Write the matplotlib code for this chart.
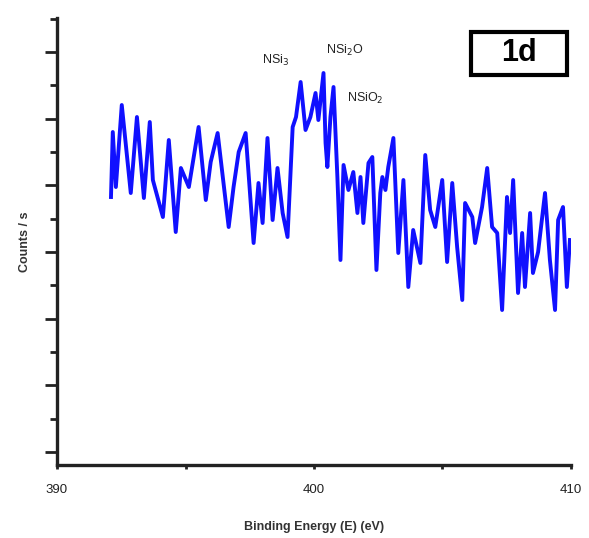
import matplotlib
matplotlib.use("Agg")
import matplotlib.pyplot as plt
from matplotlib.patches import Rectangle
from matplotlib.ticker import MultipleLocator, NullFormatter

plt.rcParams['font.family'] = ['Liberation Sans', 'DejaVu Sans']

# spectrum (binding energy in eV, counts / s)
energy = [392.10, 392.17, 392.29, 392.52, 392.87, 393.11, 393.38, 393.61, 393.73, 394.12,
          394.35, 394.62, 394.82, 395.13, 395.51, 395.79, 395.98, 396.25, 396.68, 396.87,
          397.07, 397.34, 397.65, 397.84, 398.00, 398.19, 398.39, 398.58, 398.78, 398.97,
          399.17, 399.30, 399.48, 399.67, 399.86, 400.06, 400.17, 400.37, 400.45, 400.52,
          400.64, 400.76, 400.91, 401.03, 401.15, 401.34, 401.53, 401.69, 401.81, 401.92,
          402.12, 402.27, 402.43, 402.58, 402.66, 402.78, 402.89, 403.09, 403.28, 403.48,
          403.67, 403.86, 404.14, 404.33, 404.52, 404.72, 404.99, 405.18, 405.38, 405.57,
          405.77, 405.88, 406.16, 406.27, 406.54, 406.74, 406.93, 407.13, 407.32, 407.51,
          407.63, 407.75, 407.94, 408.10, 408.21, 408.41, 408.52, 408.72, 408.99, 409.18,
          409.38, 409.50, 409.69, 409.84, 409.96]
counts = [965, 1160, 995, 1241, 977, 1205, 962, 1190, 1016, 905,
          1136, 860, 1052, 995, 1175, 956, 1070, 1157, 875, 995,
          1100, 1157, 827, 1007, 887, 1142, 896, 1052, 917, 845,
          1175, 1205, 1310, 1166, 1205, 1277, 1196, 1337, 1127, 1055,
          1205, 1295, 1025, 776, 1061, 986, 1040, 917, 1025, 887,
          1067, 1085, 746, 977, 1025, 986, 1055, 1142, 797, 1016,
          695, 866, 767, 1091, 926, 875, 1016, 770, 1007, 815,
          656, 947, 905, 827, 935, 1052, 875, 857, 626, 965,
          857, 1016, 677, 857, 695, 917, 737, 800, 977, 776,
          626, 896, 935, 695, 836]

peak_names = ['NSi$_3$', 'NSi$_2$O', 'NSiO$_2$']
peak_pos = [(398.5, 1375), (401.2, 1405), (402.0, 1260)]

fig = plt.figure(figsize=(5.89, 5.38), dpi=100)
ax = fig.add_axes([0.0968, 0.1357, 0.8726, 0.8308])

ax.plot(energy, counts, color='#1010ff', lw=2.8)

ax.set_xlim(390, 410)
ax.set_ylim(161, 1502)
ax.xaxis.set_major_locator(MultipleLocator(10))
ax.xaxis.set_minor_locator(MultipleLocator(5))
ax.yaxis.set_major_locator(MultipleLocator(200))
ax.yaxis.set_minor_locator(MultipleLocator(100))
ax.yaxis.set_major_formatter(NullFormatter())

for s in ['top', 'right']:
    ax.spines[s].set_visible(False)
for s in ['left', 'bottom']:
    ax.spines[s].set_linewidth(2.4)
    ax.spines[s].set_color('#222222')

ax.tick_params(axis='y', which='major', direction='out', length=9, width=2, color='#222222')
ax.tick_params(axis='y', which='minor', direction='out', length=5, width=2, color='#222222')
ax.tick_params(axis='x', which='both', direction='out', length=3, width=2, color='#222222',
               labelsize=9.5, pad=11, labelcolor='#222222')

ax.set_xlabel('Binding Energy (E) (eV)', fontsize=9, fontweight='bold', color='#333333', labelpad=18)
ax.set_ylabel('Counts / s', fontsize=9, fontweight='bold', color='#333333', labelpad=6)

for name, (px, py) in zip(peak_names, peak_pos):
    ax.text(px, py, name, fontsize=9, color='#222222', ha='center', va='center')

# "1d" panel label in a box
fig.patches.append(Rectangle((0.8, 0.8606), 0.163, 0.0799, transform=fig.transFigure,
                             fc='white', ec='black', lw=3))
fig.text(0.881, 0.9015, '1d', fontsize=22, fontweight='bold', ha='center', va='center')

fig.savefig('out.png', dpi=100)
